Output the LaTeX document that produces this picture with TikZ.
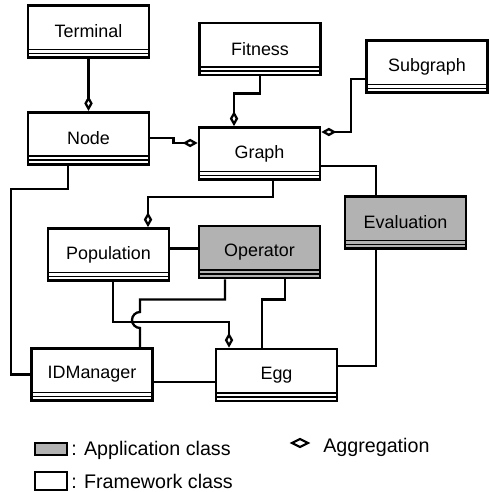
\documentclass[tikz,border=0pt]{standalone}
\usepackage{fontspec}
\setmainfont{Liberation Sans}
\usepackage{tikz}
\usetikzlibrary{arrows.meta, positioning, calc}

\begin{document}
\begin{tikzpicture}[
    x=0.02cm, y=-0.02cm,
    cls/.style={draw, rectangle, line width=1.6pt, fill=white, minimum width=2.42cm, minimum height=1.04cm, font=\fontsize{10.2}{12}\selectfont,
        path picture={
            \draw[line width=0.9pt] ([yshift=0.16cm]path picture bounding box.south west) -- ([yshift=0.16cm]path picture bounding box.south east);
            \draw[line width=0.9pt] ([yshift=0.08cm]path picture bounding box.south west) -- ([yshift=0.08cm]path picture bounding box.south east);
        }},
    app/.style={cls, fill=black!30},
    link/.style={line width=1.3pt},
    agg/.style={link, -{Diamond[open, length=8.5pt, width=4.8pt]}},
    key/.style={anchor=base west, inner sep=0pt, font=\fontsize{11.2}{13}\selectfont}
]
    \useasboundingbox (0,0) rectangle (489,492);

    % classes
    \node[cls] (terminal) at (88.5,31.5) {Terminal};
    \node[cls, below=1.04cm of terminal] (gnode) {Node};
    \node[cls] (fitness) at (260,49) {Fitness};
    \node[cls] (subgraph) at (427,66.5) {Subgraph};
    \node[cls] (graph) at (259.5,153.5) {Graph};
    \node[app] (evaluation) at (405.5,222.5) {Evaluation};
    \node[app] (operator) at (259.5,252) {Operator};
    \node[cls] (population) at (108.5,254.5) {Population};
    \node[cls] (idmanager) at (92,374.5) {IDManager};
    \node[cls] (egg) at (276.5,375) {Egg};

    % aggregations
    \draw[agg] (terminal) -- (gnode);
    \draw[agg] (gnode.east) -- ++(23,0) |- ($(graph.west)+(0,-10.5)$);
    \draw[agg] (fitness.south) -- ++(0,17) -| ($(graph.north)+(-25.5,0)$);
    \draw[agg] ($(subgraph.west)+(0,12.5)$) -- ++(-14,0) |- ($(graph.east)+(0,-21.5)$);
    \draw[agg] ($(graph.south)+(13.5,0)$) -- ++(0,16) -| ($(population.north)+(39.5,0)$);
    \draw[agg] ($(population.south)+(4.5,0)$) -- ++(0,40) -| ($(egg.north)+(-47.5,0)$);

    % associations
    \draw[link] ($(gnode.south)+(-20.5,0)$) -- ++(0,23) -- ++(-57,0) |- (idmanager.west);
    \draw[link] ($(graph.east)+(0,12.5)$) -| ($(evaluation.north)+(-29.5,0)$);
    \draw[link] ($(population.east)+(0,-6)$) coordinate (p) -- (p -| operator.west);
    \draw[link] ($(operator.south)+(-34.5,0)$) -- ++(0,20) -| (140,312)
        arc[start angle=90, end angle=270, radius=0.16cm] -- ($(idmanager.north)+(48,0)$);
    \draw[link] ($(operator.south)+(25.5,0)$) -- ++(0,20) -| ($(egg.north)+(-14.5,0)$);
    \draw[link] ($(idmanager.east)+(0,7.5)$) coordinate (q) -- (q -| egg.west);
    \draw[link] ($(evaluation.south)+(-29.5,0)$) |- ($(egg.east)+(0,-9)$);

    % legend
    \node[draw, line width=1.2pt, fill=black!30, minimum width=0.64cm, minimum height=0.24cm, inner sep=0pt] (appkey) at (51,449) {};
    \node[key] (applabel) at (71,455) {: Application class};
    \node[draw, line width=1.2pt, minimum width=0.64cm, minimum height=0.36cm, inner sep=0pt] (fwkey) at (51,481) {};
    \node[key] (fwlabel) at (71,488) {: Framework class};
    \draw[line width=1.2pt] (292,443) -- (300,439) -- (308,443) -- (300,447) -- cycle;
    \node[key] (agglabel) at (323,452) {Aggregation};
\end{tikzpicture}
\end{document}
